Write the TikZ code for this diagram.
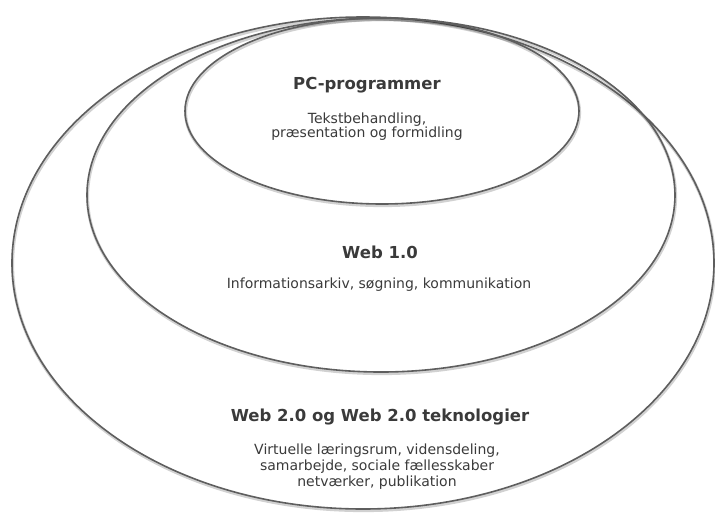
\documentclass[tikz,border=0pt]{standalone}
\usepackage{fontspec}
\setmainfont{DejaVu Sans}
\usepackage{tikz}
\usetikzlibrary{shapes.geometric}
\definecolor{ringgray}{HTML}{5E5E5E}
\definecolor{textgray}{HTML}{3A3A3A}

\tikzset{
    ring/.style={ellipse, draw=ringgray, line width=1.6pt, inner sep=0pt,
        preaction={draw=black, opacity=0.18, line width=3pt, transform canvas={xshift=0.6pt, yshift=-1.6pt}}},
    title/.style={font=\fontsize{16.5}{19}\selectfont\bfseries, text=textgray},
    body/.style={font=\fontsize{14}{16}\selectfont, text=textgray, align=center}
}

\begin{document}
\begin{tikzpicture}[x=1pt, y=-1pt]
    \useasboundingbox (0,0) rectangle (715,512);

    % Rings, outermost first
    \node[ring, minimum width=702pt, minimum height=492pt] (web2) at (363,263) {};
    \node[ring, minimum width=588pt, minimum height=354pt] (web1) at (381,195) {};
    \node[ring, minimum width=394pt, minimum height=186pt] (pc) at (382,111) {};

    % Labels
    \node[title] (pctitle) at (367,85) {PC-programmer};
    \node[body, font=\fontsize{14}{14}\selectfont] (pctext) at (367,127) {Tekstbehandling,\\præsentation og formidling};

    \node[title] (web1title) at (380,252) {Web 1.0};
    \node[body] (web1text) at (379,285) {Informationsarkiv, søgning, kommunikation};

    \node[title] (web2title) at (380,417) {Web 2.0 og Web 2.0 teknologier};
    \node[body] (web2text) at (377,467) {Virtuelle læringsrum, vidensdeling,\\samarbejde, sociale fællesskaber\\netværker, publikation};
\end{tikzpicture}
\end{document}
